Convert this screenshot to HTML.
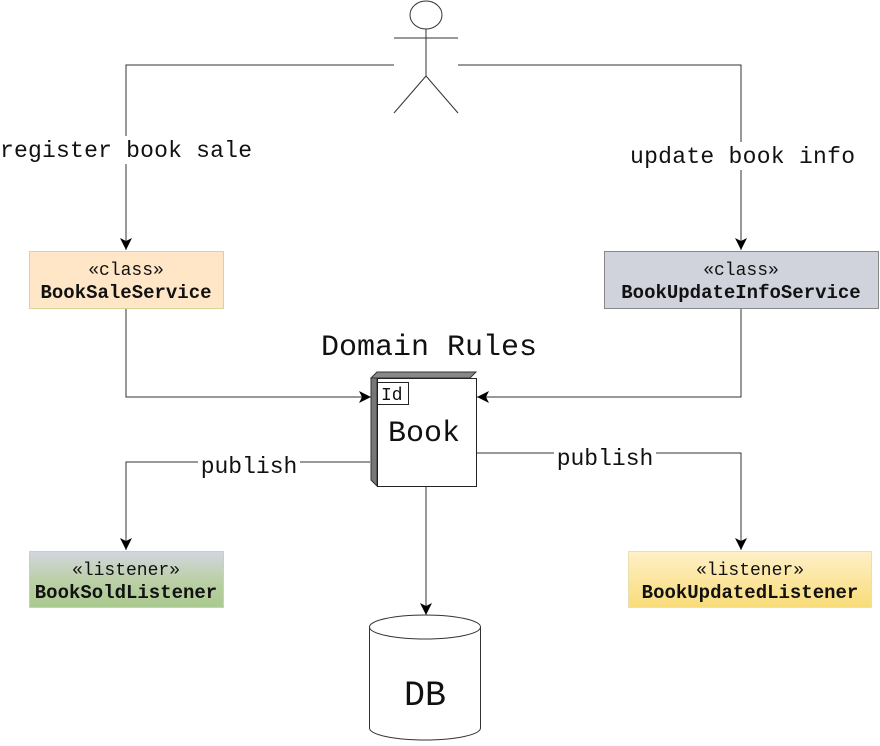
<!DOCTYPE html>
<html><head><meta charset="utf-8"><style>
html,body{margin:0;padding:0;background:#fff;}
svg{display:block;}
text{font-family:"Liberation Mono",monospace;fill:#111;}
</style></head><body>
<svg width="880" height="746" viewBox="0 0 880 746" xmlns="http://www.w3.org/2000/svg">
<defs>
<marker id="a" markerWidth="14" markerHeight="14" refX="12" refY="6" orient="auto" markerUnits="userSpaceOnUse">
<path d="M0,0 L12,6 L0,12 L3,6 Z" fill="#000"/>
</marker>
<linearGradient id="g1" x1="0" y1="0" x2="0" y2="1"><stop offset="0" stop-color="#d3d6df"/><stop offset="0.5" stop-color="#bcd0a8"/><stop offset="1" stop-color="#a9c98e"/></linearGradient>
<linearGradient id="g2" x1="0" y1="0" x2="0" y2="1"><stop offset="0" stop-color="#fff0c8"/><stop offset="1" stop-color="#f8dc78"/></linearGradient>
</defs>
<g fill="none" stroke="#333" stroke-width="1">
<ellipse cx="426" cy="15" rx="16" ry="14"/>
<line x1="394" y1="38" x2="458" y2="38"/>
<line x1="426" y1="29" x2="426" y2="76"/>
<line x1="426" y1="76" x2="394" y2="113"/>
<line x1="426" y1="76" x2="458" y2="113"/>
<polyline points="394,65 126,65 126,250" marker-end="url(#a)"/>
<polyline points="458,65 741,65 741,250" marker-end="url(#a)"/>
<polyline points="126,308 126,397 371,397" marker-end="url(#a)"/>
<polyline points="741,308 741,397 477,397" marker-end="url(#a)"/>
<polyline points="370,462 126,462 126,550" marker-end="url(#a)"/>
<polyline points="477,453 741,453 741,550" marker-end="url(#a)"/>
<line x1="426" y1="486" x2="426" y2="615" marker-end="url(#a)"/>
</g>
<rect x="0" y="136" width="254" height="28" fill="#fff"/>
<text x="0" y="157" font-size="23" textLength="252">register book sale</text>
<rect x="628" y="142" width="230" height="28" fill="#fff"/>
<text x="630" y="163" font-size="23" textLength="225">update book info</text>
<rect x="198" y="452" width="102" height="26" fill="#fff"/>
<text x="249" y="473" font-size="23" text-anchor="middle">publish</text>
<rect x="554" y="444" width="102" height="26" fill="#fff"/>
<text x="605" y="465" font-size="23" text-anchor="middle">publish</text>
<rect x="29.5" y="251.5" width="194" height="57" fill="#ffe6c6" stroke="#d6d69a"/>
<text x="126" y="275" font-size="18" text-anchor="middle">«class»</text>
<text x="126" y="298" font-size="19" font-weight="bold" text-anchor="middle">BookSaleService</text>
<rect x="604.5" y="251.5" width="274" height="57" fill="#d0d3dc" stroke="#888"/>
<text x="741" y="275" font-size="18" text-anchor="middle">«class»</text>
<text x="741" y="298" font-size="19" font-weight="bold" text-anchor="middle">BookUpdateInfoService</text>
<rect x="29.5" y="551.5" width="194" height="56" fill="url(#g1)" stroke="#ccc"/>
<text x="126" y="575" font-size="18" text-anchor="middle">«listener»</text>
<text x="126" y="598" font-size="19" font-weight="bold" text-anchor="middle">BookSoldListener</text>
<rect x="628.5" y="551.5" width="243" height="56" fill="url(#g2)" stroke="#e8e0b0"/>
<text x="750" y="575" font-size="18" text-anchor="middle">«listener»</text>
<text x="750" y="598" font-size="19" font-weight="bold" text-anchor="middle">BookUpdatedListener</text>
<text x="429" y="355" font-size="30" text-anchor="middle">Domain Rules</text>
<polygon points="371,378 377,372 476,372 470,378" fill="#888" stroke="#333"/>
<polygon points="371,378 377,378 377,486 371,480" fill="#777" stroke="#333"/>
<rect x="377.5" y="378.5" width="99" height="108" fill="#fff" stroke="#222"/>
<rect x="377.5" y="382.5" width="31" height="22" fill="#fff" stroke="#222"/>
<text x="381" y="400" font-size="18">Id</text>
<text x="424" y="441" font-size="30" text-anchor="middle">Book</text>
<path d="M369.5,627 L369.5,728 A55.5,12 0 0 0 480.5,728 L480.5,627" fill="#fff" stroke="#333"/>
<ellipse cx="425" cy="627" rx="55.5" ry="12" fill="#fff" stroke="#333"/>
<text x="425" y="705" font-size="35" text-anchor="middle">DB</text>
</svg>
</body></html>
